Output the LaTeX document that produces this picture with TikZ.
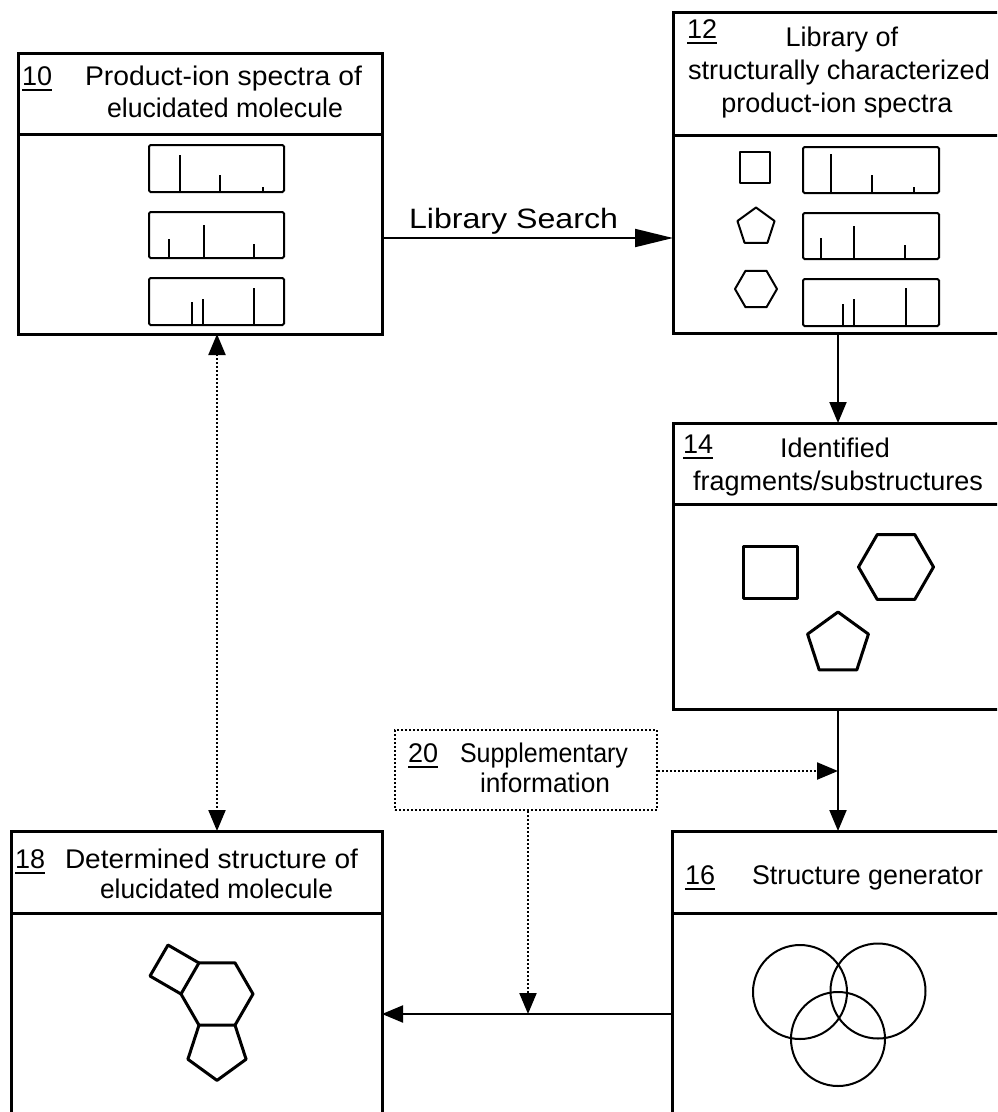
\documentclass[tikz,border=0pt]{standalone}
\usepackage{fontspec}
\setmainfont{Liberation Sans}
\usetikzlibrary{arrows.meta}
\newcommand\refnum[1]{\setbox0\hbox{#1}\rlap{\rule[-5.5pt]{\wd0}{1.8pt}}\box0}
\newlength\fitlen
\newcommand\fitw[2]{\settowidth\fitlen{#2}\pgfmathsetmacro\fitsx{#1/\fitlen}\scalebox{\fitsx}[1]{#2}}
\begin{document}
\begin{tikzpicture}[x=1pt,y=-1pt,
  box/.style={draw, line width=3pt, inner sep=0pt, outer sep=0pt},
  hdr/.style={font=\fontsize{27}{32}\selectfont, inner sep=0pt, anchor=base},
  hline/.style={line width=3pt},
  spec/.style={draw, line width=2pt, rounded corners=1.5pt},
  peak/.style={line width=2pt},
  shp/.style={line width=2pt, line join=round},
  shpb/.style={line width=3pt, line join=round},
  arr/.style={line width=2pt, -{Triangle[length=21pt,width=17pt]}},
  bigarr/.style={line width=2pt, -{Triangle[length=38pt,width=18pt]}},
  dots/.style={line width=2.2pt, dash pattern=on 1.8pt off 2.2pt},
  dotarr/.style={dots, -{Triangle[length=21pt,width=17pt]}},
  dotarrboth/.style={dots, {Triangle[length=21pt,width=17pt]}-{Triangle[length=21pt,width=17pt]}}
]
\useasboundingbox (0,0) rectangle (997,1112);
\clip (0,0) rectangle (997,1112);

% ---------- boxes ----------
\node[box, minimum width=364pt, minimum height=281pt] (b10) at (200,193.5) {};
\node[box, minimum width=326pt, minimum height=321pt] (b12) at (836,172.5) {};
\node[box, minimum width=326pt, minimum height=286pt] (b14) at (836,566) {};
\node[box, minimum width=327pt, minimum height=309pt] (b16) at (835.5,985.5) {};
\node[box, minimum width=371pt, minimum height=309pt] (b18) at (196.5,985.5) {};
\node[draw, dots, inner sep=0pt, minimum width=262pt, minimum height=80pt] (b20) at (526,770) {};

% header dividers
\draw[hline] (18,134) -- (382,134);
\draw[hline] (673,135) -- (999,135);
\draw[hline] (673,504) -- (999,504);
\draw[hline] (672,913) -- (999,913);
\draw[hline] (11,913) -- (382,913);

% ---------- texts ----------
\node[hdr, anchor=base west] (n10) at (22,85) {\refnum{10}};
\node[hdr] (t10a) at (223.5,85) {\fitw{277pt}{Product-ion spectra of}};
\node[hdr] (t10b) at (225,117) {\fitw{236pt}{elucidated molecule}};
\node[hdr, anchor=base west] (n12) at (687,38) {\refnum{12}};
\node[hdr] (t12a) at (842,46) {Library of};
\node[hdr] (t12b) at (839,79) {\fitw{302pt}{structurally characterized}};
\node[hdr] (t12c) at (837,112) {product-ion spectra};
\node[hdr, anchor=base west] (n14) at (683,453) {\refnum{14}};
\node[hdr] (t14a) at (835,457) {Identified};
\node[hdr] (t14b) at (838,490) {\fitw{290pt}{fragments/substructures}};
\node[hdr, anchor=base west] (n16) at (685,884) {\refnum{16}};
\node[hdr] (t16) at (867.5,884) {\fitw{231pt}{Structure generator}};
\node[hdr, anchor=base west] (n18) at (15,868) {\refnum{18}};
\node[hdr] (t18a) at (211.5,868) {\fitw{293pt}{Determined structure of}};
\node[hdr] (t18b) at (216.5,898) {\fitw{233pt}{elucidated molecule}};
\node[hdr, anchor=base west] (n20) at (408,762) {\refnum{20}};
\node[hdr] (t20a) at (544,762) {\fitw{168pt}{Supplementary}};
\node[hdr] (t20b) at (545,792) {\fitw{130pt}{information}};
\node[hdr, font=\fontsize{28}{32}\selectfont] (lst) at (513.5,228) {\fitw{209pt}{Library Search}};

% ---------- spectra in box 10 ----------
\draw[spec] (149,145) rectangle (284,192);
\draw[spec] (149,212) rectangle (284,258);
\draw[spec] (149,278) rectangle (284,325);
\draw[peak] (180,192) -- (180,155) (220,192) -- (220,175) (263,192) -- (263,187);
\draw[peak] (169,258) -- (169,239) (204,258) -- (204,225) (254,258) -- (254,244);
\draw[peak] (192,325) -- (192,302) (203,325) -- (203,299) (254,325) -- (254,288);

% ---------- spectra in box 12 ----------
\draw[spec] (803,147) rectangle (939,193);
\draw[spec] (803,213) rectangle (939,259);
\draw[spec] (803,279) rectangle (939,326);
\draw[peak] (831,193) -- (831,154) (872,193) -- (872,175) (914,193) -- (914,187);
\draw[peak] (821,259) -- (821,238) (854,259) -- (854,226) (905,259) -- (905,245);
\draw[peak] (843,326) -- (843,304) (854,326) -- (854,299) (906,326) -- (906,288);
% small shapes
\draw[shp] (740,152) rectangle (770,183);
\draw[shp, shift={(756,227)}] (-90:19.5) -- (-18:19.5) -- (54:19.5) -- (126:19.5) -- (198:19.5) -- cycle;
\draw[shp, shift={(756,289)}] (0:21) -- (60:21) -- (120:21) -- (180:21) -- (240:21) -- (300:21) -- cycle;

% ---------- shapes in box 14 ----------
\draw[shpb] (743,546) rectangle (797,598);
\draw[shpb, shift={(896,567)}] (0:37.5) -- (60:37.5) -- (120:37.5) -- (180:37.5) -- (240:37.5) -- (300:37.5) -- cycle;
\draw[shpb, shift={(838,644)}] (-90:32) -- (-18:32) -- (54:32) -- (126:32) -- (198:32) -- cycle;

% ---------- circles in box 16 ----------
\draw[line width=2pt] (800,992) circle[radius=47];
\draw[line width=2pt] (878,991) circle[radius=47.5];
\draw[line width=2pt] (838,1039) circle[radius=47];

% ---------- molecule in box 18 ----------
\draw[shpb, shift={(217,994)}] (0:36) -- (60:36) -- (120:36) -- (180:36) -- (240:36) -- (300:36) -- cycle;
\draw[shpb, shift={(217,1049.8)}] (234:30.6) -- (162:30.6) -- (90:30.6) -- (18:30.6) -- (306:30.6);
\draw[shpb] (199,963) -- (168,945) -- (150,976) -- (181,994);

% ---------- connectors ----------
\coordinate (ls) at (0,238);
\coordinate (v) at (838,0);
\coordinate (j) at (838,771);
\coordinate (k) at (528,1014);
\coordinate (m) at (217,0);
\draw[bigarr] (b10.east |- ls) -- (b12.west |- ls);
\draw[arr] (b12.south -| v) -- (b14.north -| v);
\draw[arr] (b14.south -| v) -- (b16.north -| v);
\draw[dotarr] (b20.east |- j) -- (j);
\draw[dotarr] (b20.south -| k) -- (k);
\draw[arr] (b16.west |- k) -- (b18.east |- k);
\draw[dotarrboth] (b10.south -| m) -- (b18.north -| m);
\end{tikzpicture}
\end{document}
